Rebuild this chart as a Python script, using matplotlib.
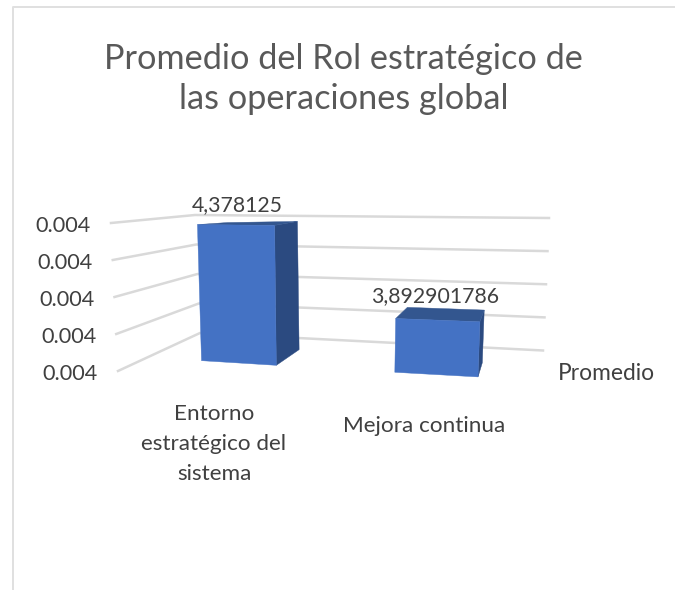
import matplotlib
matplotlib.use("Agg")
import matplotlib.pyplot as plt
from matplotlib.patches import Polygon

plt.rcParams['font.family'] = ['Lato', 'DejaVu Sans']

# ---- data ----
title = "Promedio del Rol estratégico de\nlas operaciones global"
categories = ["Entorno\nestratégico del\nsistema", "Mejora continua"]
series_name = "Promedio"
values = [4.378125, 3.892901786]
value_labels = ["4,378125", "3,892901786"]
axis_ticks = [3.5, 3.75, 4.0, 4.25, 4.5]
axis_tick_labels = ["0.004", "0.004", "0.004", "0.004", "0.004"]

# ---- style ----
FRONT = "#4472C4"
SIDE = "#2B4A80"
TOP = "#33568F"
GRID = "#D9D9D9"
TEXT = "#404040"
TITLE_C = "#595959"
BAR_HALF = 0.2

axis_min, axis_max = axis_ticks[0], axis_ticks[-1]


def frac(v):
    return (v - axis_min) / (axis_max - axis_min)


def project(q, d, t):
    """Oblique perspective: q category position, d depth (0 front, 1 back), t axis fraction."""
    x0 = 238.5 + 187 * q + 10.5 * q * q
    y0 = 363 + 11.6 * q
    h = (107.2 * t + 56.9 * t * t) * (1 + 0.07 * q)
    lean = t * (-3.3 + 6.8 * q)
    dx = 26.5 - 18.5 * q
    dy = (-16 + 1.5 * q) + (14.8 - 7 * q) * t
    return x0 + lean + d * dx, y0 - h + d * dy


def wall_points(t):
    return ([118 - 7 * t, 200 - 5 * t, 543 + 6 * t],
            [371 - 148 * t, 333 - 118 * t, 350.5 - 132.5 * t])


fig = plt.figure(figsize=(6.75, 5.9), dpi=100, facecolor="white")
ax = fig.add_axes([0, 0, 1, 1])
ax.set_xlim(0, 675)
ax.set_ylim(590, 0)
ax.axis("off")

# chart frame
ax.plot([12.5, 12.5, 675], [590, 6.5, 6.5], color="#E0E0E0", lw=1.4, zorder=1)

# gridlines and axis labels
for tick, lab in zip(axis_ticks, axis_tick_labels):
    t = frac(tick)
    xs, ys = wall_points(t)
    ax.plot(xs, ys, color=GRID, lw=1.8, zorder=2, solid_joinstyle="miter")
    ax.text(xs[0] - 20, ys[0] + 3, lab, ha="right", va="center",
            fontsize=15.6, color=TEXT, zorder=5)

# bars
for i, (v, cat, lab) in enumerate(zip(values, categories, value_labels)):
    t = frac(v)
    l, r = i - BAR_HALF, i + BAR_HALF
    front = [project(l, 0, 0), project(r, 0, 0), project(r, 0, t), project(l, 0, t)]
    side = [project(r, 0, 0), project(r, 1, 0), project(r, 1, t), project(r, 0, t)]
    top = [project(l, 0, t), project(r, 0, t), project(r, 1, t), project(l, 1, t)]
    ax.add_patch(Polygon(side, closed=True, fc=SIDE, ec=SIDE, lw=0.3, zorder=3))
    ax.add_patch(Polygon(top, closed=True, fc=TOP, ec=TOP, lw=0.3, zorder=3))
    ax.add_patch(Polygon(front, closed=True, fc=FRONT, ec=FRONT, lw=0.3, zorder=4))
    lx, ly = project(i, 0.5, t)
    ax.text(lx - 12 + 6 * i, ly - 18, lab, ha="center", va="center",
            fontsize=15.3, color=TEXT, zorder=6)

# category labels
ax.text(214, 444, categories[0], ha="center", va="center", fontsize=16.2,
        color=TEXT, linespacing=1.6)
ax.text(424, 426, categories[1], ha="center", va="center", fontsize=16.2, color=TEXT)
ax.text(606.5, 373, series_name, ha="center", va="center", fontsize=16.4, color=TEXT)

# title
ax.text(343.5, 79, title, ha="center", va="center", fontsize=24.7, color=TITLE_C,
        linespacing=1.33)

fig.savefig("out.png", dpi=100, facecolor="white")
